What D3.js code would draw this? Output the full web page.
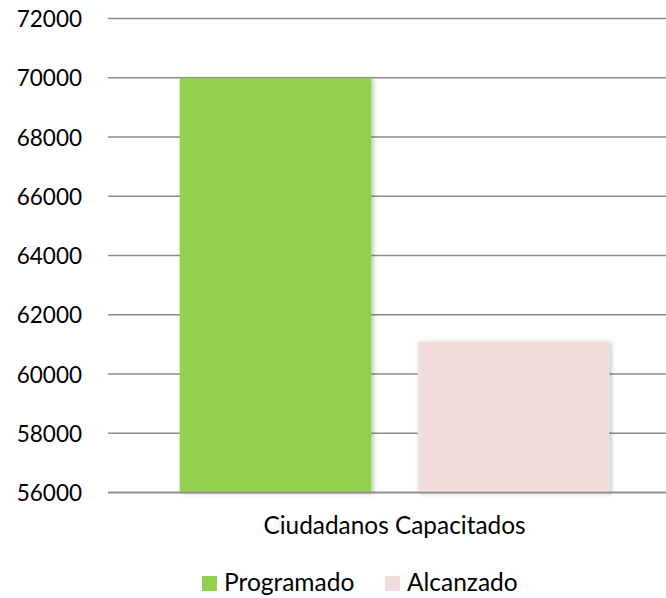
<!DOCTYPE html>
<html><head><meta charset="utf-8">
<script src="https://cdn.jsdelivr.net/npm/d3@7"></script>
<style>body{margin:0;background:#fff}svg{display:block}text{font-family:Lato,"Open Sans",sans-serif;fill:#000}</style>
</head><body><div id="c"></div>
<script>
const categories = ["Ciudadanos Capacitados"];
const seriesNames = ["Programado", "Alcanzado"];
const seriesColors = ["#92D050", "#F2DCDB"];
const programado = [70000];
const alcanzado = [61100];
const yTicks = [56000, 58000, 60000, 62000, 64000, 66000, 68000, 70000, 72000];

const W = 666, H = 598;
const svg = d3.select("#c").append("svg").attr("width", W).attr("height", H);
const defs = svg.append("defs");
const f = defs.append("filter").attr("id","sh").attr("x","-10%").attr("y","-10%").attr("width","130%").attr("height","130%");
f.append("feDropShadow").attr("dx",2).attr("dy",1).attr("stdDeviation",2).attr("flood-color","#000").attr("flood-opacity",0.25);

const pLeft = 108, pRight = 681, pTop = 18.5, pBottom = 492.5;
const y = d3.scaleLinear().domain([56000, 72000]).range([pBottom, pTop]);
const x0 = d3.scaleBand().domain(categories).range([pLeft, pRight]).paddingInner(0).paddingOuter(0.167);
const x1 = d3.scaleBand().domain(seriesNames).range([0, x0.bandwidth()]).paddingInner(0.195).paddingOuter(0);

// gridlines
svg.append("g").selectAll("line").data(yTicks).join("line")
  .attr("x1", pLeft).attr("x2", W).attr("y1", d => y(d)).attr("y2", d => y(d))
  .attr("stroke", "#8c8c8c").attr("stroke-width", 1.6);

// y labels
const yAxis = d3.axisLeft(y).tickValues(yTicks).tickSize(0).tickPadding(0).tickFormat(d3.format("d"));
const ga = svg.append("g").attr("transform", `translate(82,0)`).call(yAxis);
ga.select(".domain").remove();
ga.selectAll("text").attr("font-size", 22.5).attr("font-family", "Lato, 'Open Sans', sans-serif").attr("fill","#000").attr("dy","0.36em");

// bars
const data = categories.map((c, i) => ({cat: c, vals: [programado[i], alcanzado[i]]}));
const grp = svg.append("g").selectAll("g").data(data).join("g").attr("transform", d => `translate(${x0(d.cat)},0)`);
grp.selectAll("rect").data(d => d.vals.map((v, j) => ({name: seriesNames[j], v, j}))).join("rect")
  .attr("x", d => x1(d.name)).attr("width", x1.bandwidth())
  .attr("y", d => y(d.v)).attr("height", d => y(56000) - y(d.v))
  .attr("fill", d => seriesColors[d.j]).attr("filter","url(#sh)");

// axis line redraw on top
svg.append("line").attr("x1", pLeft).attr("x2", W).attr("y1", y(56000)).attr("y2", y(56000))
  .attr("stroke", "#8c8c8c").attr("stroke-width", 1.6);

// category label
svg.append("g").selectAll("text").data(categories).join("text")
  .attr("x", d => x0(d) + x0.bandwidth()/2).attr("y", 534)
  .attr("text-anchor","middle").attr("font-size", 24.4).text(d => d);

// legend
const legX = [202, 385];
const lg = svg.append("g").selectAll("g").data(seriesNames).join("g")
  .attr("transform", (d, i) => `translate(${legX[i]},576)`);
lg.append("rect").attr("width", 15).attr("height", 15).attr("fill", (d, i) => seriesColors[i]);
lg.append("text").attr("x", 22).attr("y", 15).attr("font-size", 24.5).text(d => d);
</script></body></html>
